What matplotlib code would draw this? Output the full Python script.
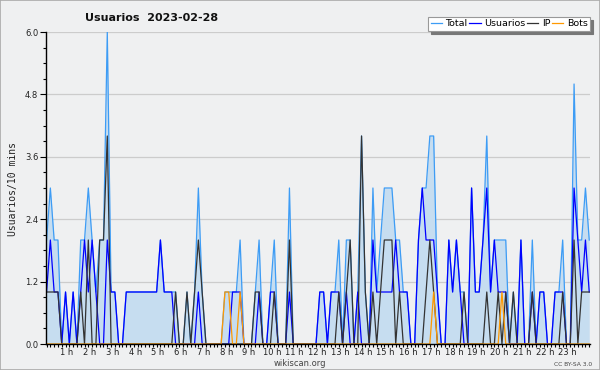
import matplotlib
matplotlib.use('Agg')
import matplotlib.pyplot as plt
import matplotlib.transforms as mtransforms
from matplotlib.patches import Rectangle
import numpy as np

# una muestra cada 10 min, 144 puntos
total = [2, 3, 2, 2, 0, 1, 0, 1, 0, 2, 2, 3, 2, 1, 2, 2, 6, 1, 1, 0, 0, 1, 1, 1,
         1, 1, 1, 1, 1, 1, 2, 1, 1, 1, 1, 0, 0, 1, 0, 1, 3, 1, 0, 0, 0, 0, 0, 1,
         1, 1, 1, 2, 0, 0, 0, 1, 2, 0, 0, 1, 2, 0, 0, 0, 3, 0, 0, 0, 0, 0, 0, 0,
         1, 1, 0, 1, 1, 2, 0, 2, 2, 0, 1, 4, 1, 0, 3, 1, 2, 3, 3, 3, 2, 2, 1, 1,
         0, 0, 2, 3, 3, 4, 4, 1, 0, 0, 2, 1, 2, 1, 1, 0, 3, 1, 1, 2, 4, 1, 2, 2,
         2, 2, 0, 1, 0, 2, 0, 0, 2, 0, 1, 1, 0, 0, 1, 1, 2, 0, 0, 5, 2, 2, 3, 2]
usuarios = [1, 2, 1, 1, 0, 1, 0, 1, 0, 1, 2, 1, 2, 1, 0, 0, 2, 1, 1, 0, 0, 1, 1, 1,
            1, 1, 1, 1, 1, 1, 2, 1, 1, 1, 0, 0, 0, 0, 0, 0, 1, 0, 0, 0, 0, 0, 0, 0,
            0, 1, 1, 1, 0, 0, 0, 0, 1, 0, 0, 1, 1, 0, 0, 0, 1, 0, 0, 0, 0, 0, 0, 0,
            1, 1, 0, 1, 1, 1, 0, 1, 0, 0, 1, 0, 0, 0, 2, 1, 1, 1, 1, 1, 2, 1, 1, 1,
            0, 0, 2, 3, 2, 2, 2, 1, 0, 0, 2, 1, 2, 1, 0, 0, 3, 1, 1, 2, 3, 1, 2, 1,
            1, 1, 0, 0, 0, 2, 0, 0, 1, 0, 1, 1, 0, 0, 1, 1, 1, 0, 0, 3, 2, 1, 2, 1]
ip = [1, 1, 1, 1, 0, 0, 0, 0, 0, 1, 0, 2, 0, 0, 2, 2, 4, 0, 0, 0, 0, 0, 0, 0,
      0, 0, 0, 0, 0, 0, 0, 0, 0, 0, 1, 0, 0, 1, 0, 1, 2, 1, 0, 0, 0, 0, 0, 0,
      0, 0, 0, 0, 0, 0, 0, 1, 1, 0, 0, 0, 1, 0, 0, 0, 2, 0, 0, 0, 0, 0, 0, 0,
      0, 0, 0, 0, 0, 1, 0, 1, 2, 0, 0, 4, 1, 0, 1, 0, 1, 2, 2, 2, 0, 1, 0, 0,
      0, 0, 0, 0, 1, 2, 1, 0, 0, 0, 0, 0, 0, 0, 1, 0, 0, 0, 0, 0, 1, 0, 0, 1,
      0, 1, 0, 1, 0, 0, 0, 0, 1, 0, 0, 0, 0, 0, 0, 0, 1, 0, 0, 2, 0, 1, 1, 1]
bots = [0, 0, 0, 0, 0, 0, 0, 0, 0, 0, 0, 0, 0, 0, 0, 0, 0, 0, 0, 0, 0, 0, 0, 0,
        0, 0, 0, 0, 0, 0, 0, 0, 0, 0, 0, 0, 0, 0, 0, 0, 0, 0, 0, 0, 0, 0, 0, 1,
        1, 0, 0, 1, 0, 0, 0, 0, 0, 0, 0, 0, 0, 0, 0, 0, 0, 0, 0, 0, 0, 0, 0, 0,
        0, 0, 0, 0, 0, 0, 0, 0, 0, 0, 0, 0, 0, 0, 0, 0, 0, 0, 0, 0, 0, 0, 0, 0,
        0, 0, 0, 0, 0, 0, 1, 0, 0, 0, 0, 0, 0, 0, 0, 0, 0, 0, 0, 0, 0, 0, 0, 0,
        1, 0, 0, 0, 0, 0, 0, 0, 0, 0, 0, 0, 0, 0, 0, 0, 0, 0, 0, 0, 0, 0, 0, 0]

horas = ['1 h', '2 h', '3 h', '4 h', '5 h', '6 h', '7 h', '8 h', '9 h', '10 h',
         '11 h', '12 h', '13 h', '14 h', '15 h', '16 h', '17 h', '18 h', '19 h',
         '20 h', '21 h', '22 h', '23 h']
yticks = [0.0, 1.2, 2.4, 3.6, 4.8, 6.0]

fondo = '#eff0f1'
fig = plt.figure(figsize=(6, 3.7), dpi=100)
fig.patch.set_facecolor(fondo)
ax = fig.add_axes([46 / 600, 26 / 370, 544 / 600, 312 / 370])
ax.set_facecolor(fondo)

x = np.arange(len(total))
ax.fill_between(x, total, color='#c6ddf0', lw=0, zorder=1)
ax.plot(x, total, color='#3d9cf5', lw=0.9, label='Total', zorder=2)
ax.plot(x, usuarios, color='#0000ff', lw=0.9, label='Usuarios', zorder=3)
ax.plot(x, ip, color='#333333', lw=0.9, label='IP', zorder=4)
ax.plot(x, bots, color='#ff9900', lw=0.9, label='Bots', zorder=5)

ax.set_xlim(-0.15, 143.2)
ax.set_ylim(0, 6.0)

# ejes
for s in ['top', 'right']:
    ax.spines[s].set_visible(False)
for s in ['left', 'bottom']:
    ax.spines[s].set_color('black')
    ax.spines[s].set_linewidth(1.0)
    ax.spines[s].set_zorder(6)

ax.set_yticks(yticks)
ax.set_yticklabels(['%.1f' % v for v in yticks])
ax.set_yticks(np.arange(0, 6.01, 0.3), minor=True)
ax.yaxis.grid(True, color='#cccccc', lw=0.9)
ax.set_axisbelow(True)

ax.set_xticks(np.arange(6, 144, 6))
ax.set_xticklabels(horas)
ax.set_xticks(np.arange(0, 144, 1), minor=True)
ax.tick_params(axis='y', which='major', labelsize=6, direction='out',
               length=4, width=0.8, colors='black', labelcolor='#222222', pad=1.5)
ax.tick_params(axis='y', which='minor', direction='out', length=2.5, width=0.8)
ax.tick_params(axis='x', which='major', labelsize=6, direction='out',
               length=2.5, width=0.8, colors='black', labelcolor='#222222', pad=0.3)
ax.tick_params(axis='x', which='minor', direction='out', length=2.5, width=0.8)
off = mtransforms.ScaledTranslation(-2.5 / 100, 0, fig.dpi_scale_trans)
for lbl in ax.get_xticklabels():
    lbl.set_transform(lbl.get_transform() + off)

fig.text(0.252, 1 - 21 / 370, 'Usuarios  2023-02-28', ha='center', va='baseline',
         fontsize=8, fontweight='bold', color='#111111')
fig.text(13 / 600, 0.49, 'Usuarios/10 mins', rotation=90, ha='center', va='center',
         fontsize=7, family='DejaVu Sans Mono', color='#222222')

leg = ax.legend(loc='upper right', bbox_to_anchor=(590 / 600, 1 - 17 / 370),
                bbox_transform=fig.transFigure, ncol=4, fontsize=6.8,
                handlelength=1.2, handletextpad=0.35, columnspacing=0.2,
                borderpad=0.25, borderaxespad=0, fancybox=False,
                shadow={'color': '#777777', 'alpha': 1}, framealpha=1)
leg.get_frame().set_edgecolor('#999999')
leg.get_frame().set_linewidth(0.8)

fig.text(0.5, 1 - 363 / 370, 'wikiscan.org', ha='center', va='center',
         fontsize=6, color='#444444')
fig.text(592 / 600, 1 - 364 / 370, 'CC BY-SA 3.0', ha='right', va='center',
         fontsize=4.3, color='#444444')

fig.patches.append(Rectangle((0, 0), 1, 1, transform=fig.transFigure, fill=False,
                             edgecolor='#aaaaaa', lw=1.2))

fig.savefig('out.png', dpi=100, facecolor=fig.get_facecolor())
